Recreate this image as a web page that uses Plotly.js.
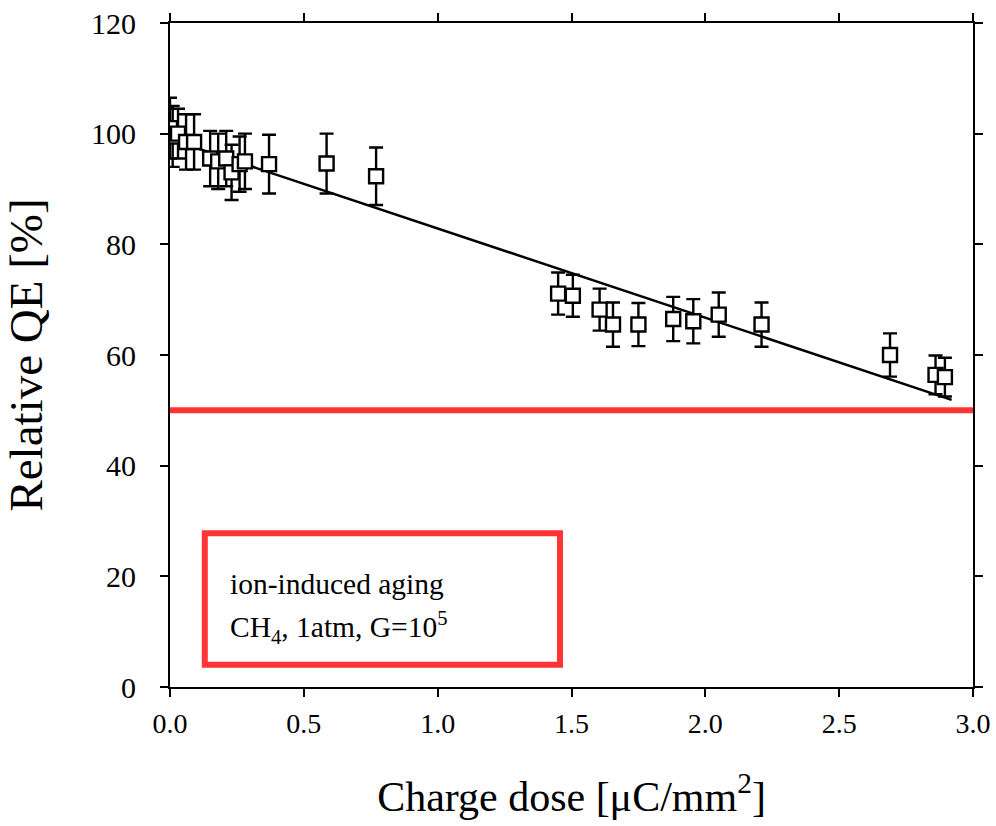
<!DOCTYPE html>
<html>
<head>
<meta charset="utf-8">
<script src="https://cdn.plot.ly/plotly-3.0.1.min.js"></script>
<style>
  html, body { margin: 0; padding: 0; background: #ffffff; }
  #chart { width: 996px; height: 826px; }
</style>
</head>
<body>
<div id="chart"></div>
<script>
// Relative QE vs. accumulated charge dose (ion-induced aging, CH4, 1 atm, G=1e5)
const dose = [0.00, 0.01, 0.03, 0.06, 0.09, 0.15, 0.18, 0.21, 0.23, 0.26, 0.28, 0.37,
              0.585, 0.77, 1.45, 1.505, 1.605, 1.655, 1.75, 1.88, 1.955, 2.05, 2.21,
              2.69, 2.86, 2.895];
const qe = [101, 99.5, 100, 98.5, 98.5, 95.5, 95, 95.5, 93, 94.5, 95, 94.5,
            94.6, 92.3, 71.1, 70.7, 68.2, 65.5, 65.5, 66.5, 66.1, 67.3, 65.5,
            60.0, 56.4, 56.0];
const qeErr = [5.5, 5.5, 4.5, 5, 5, 5, 5, 5, 5, 5, 5, 5.3,
               5.4, 5.2, 3.8, 3.8, 3.8, 4, 3.9, 4, 4, 4, 4,
               3.9, 3.5, 3.5];

// Linear fit through the measurements
const fitDose = [0, 2.92];
const fitQE = [99, 51.9];

// 50 % reference level
const refLevel = 50;

const xTicks = [0, 0.5, 1.0, 1.5, 2.0, 2.5, 3.0];
const xTickText = ['0.0', '0.5', '1.0', '1.5', '2.0', '2.5', '3.0'];
const yTicks = [0, 20, 40, 60, 80, 100, 120];

const serif = 'Liberation Serif, Times New Roman, serif';
const red = '#ff3535';

const traces = [
  {
    x: fitDose, y: fitQE, type: 'scatter', mode: 'lines',
    line: { color: '#000', width: 2.5 }, hoverinfo: 'skip', showlegend: false
  },
  {
    x: dose, y: qe, type: 'scatter', mode: 'markers',
    marker: { symbol: 'square', size: 14, color: '#fff', line: { color: '#000', width: 2.4 } },
    error_y: { type: 'data', array: qeErr, visible: true, color: '#000', thickness: 2.4, width: 7 },
    showlegend: false
  }
];

const axisCommon = {
  showline: true, linecolor: '#000', linewidth: 2, mirror: 'ticks',
  ticks: 'outside', ticklen: 8, tickwidth: 2, tickcolor: '#000',
  showgrid: false, zeroline: false
};

const layout = {
  width: 996, height: 826,
  margin: { l: 170, r: 23, t: 23, b: 139 },
  paper_bgcolor: '#fff', plot_bgcolor: '#fff',
  showlegend: false,
  xaxis: Object.assign({}, axisCommon, {
    range: [0, 3.0], tickvals: xTicks, ticktext: xTickText,
    tickfont: { family: serif, size: 28, color: '#000' },
    ticklabelstandoff: 2,
    title: { text: 'Charge dose [μC/mm<sup>2</sup>]', font: { family: serif, size: 42, color: '#000' }, standoff: 44 }
  }),
  yaxis: Object.assign({}, axisCommon, {
    range: [0, 120], tickvals: yTicks,
    tickfont: { family: serif, size: 30, color: '#000' },
    ticklabelstandoff: 18,
    title: { text: 'Relative QE [%]', font: { family: serif, size: 47, color: '#000' }, standoff: 34 }
  }),
  shapes: [
    {
      type: 'line', xref: 'x', yref: 'y', x0: 0, x1: 3.0, y0: refLevel, y1: refLevel,
      line: { color: red, width: 6 }
    },
    {
      type: 'rect', xref: 'x', yref: 'y', x0: 0.13, x1: 1.457, y0: 4.0, y1: 27.8,
      line: { color: red, width: 6 }, fillcolor: 'rgba(0,0,0,0)'
    }
  ],
  annotations: [
    {
      xref: 'x', yref: 'y', x: 0.215, y: 18.6, xanchor: 'left', yanchor: 'middle',
      text: 'ion-induced aging', showarrow: false, align: 'left',
      font: { family: serif, size: 29.5, color: '#000' }
    },
    {
      xref: 'x', yref: 'y', x: 0.215, y: 10.8, xanchor: 'left', yanchor: 'middle',
      text: 'CH<sub>4</sub>, 1atm, G=10<sup>5</sup>', showarrow: false, align: 'left',
      font: { family: serif, size: 29.5, color: '#000' }
    }
  ]
};

Plotly.newPlot('chart', traces, layout, { displayModeBar: false, staticPlot: true });
</script>
</body>
</html>
